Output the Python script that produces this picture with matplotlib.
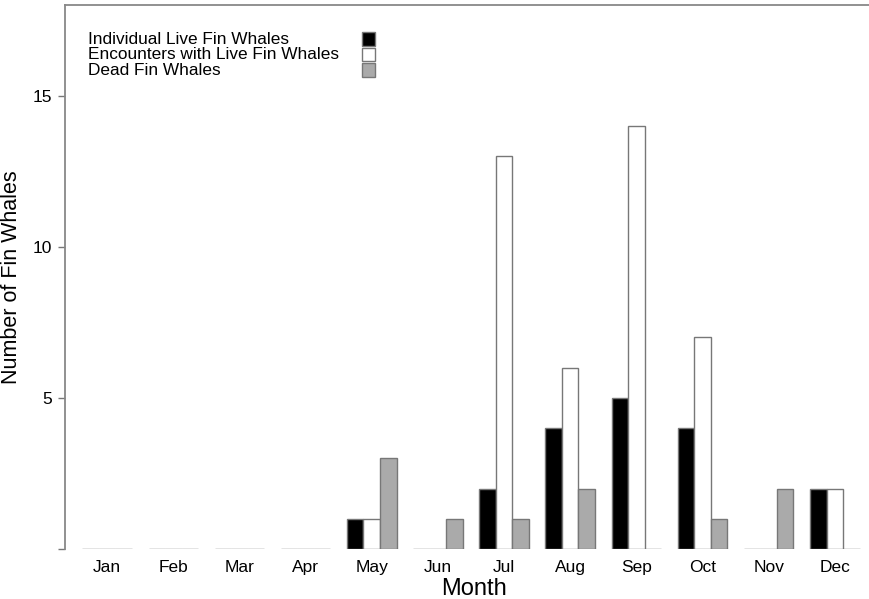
import numpy as np
import matplotlib
matplotlib.use('Agg')
import matplotlib.pyplot as plt

plt.rcParams['font.family'] = ['Liberation Sans', 'DejaVu Sans']

months = ['Jan', 'Feb', 'Mar', 'Apr', 'May', 'Jun',
          'Jul', 'Aug', 'Sep', 'Oct', 'Nov', 'Dec']
individual_live = [0, 0, 0, 0, 1, 0, 2, 4, 5, 4, 0, 2]
encounters_live = [0, 0, 0, 0, 1, 0, 13, 6, 14, 7, 0, 2]
dead = [0, 0, 0, 0, 3, 1, 1, 2, 0, 1, 2, 0]
series_labels = ['Individual Live Fin Whales',
                 'Encounters with Live Fin Whales',
                 'Dead Fin Whales']
series_colors = ['black', 'white', '#aaaaaa']

fig = plt.figure(figsize=(8.7, 5.99), dpi=100)
ax = fig.add_axes([0.0747, 0.0835, 0.94, 0.908])

edge = '#777777'
groups = np.arange(len(months)) * 4
for k, (vals, col) in enumerate(zip([individual_live, encounters_live, dead], series_colors)):
    ax.bar(groups + 1.5 + k, vals, width=1, color=col, edgecolor=edge, linewidth=1)

ax.set_xlim(-0.05, 49.4)
ax.set_ylim(0, 18)
ax.set_xticks(groups + 2.5)
ax.set_xticklabels(months, fontsize=12.5)
ax.tick_params(axis='x', length=0, pad=8)
ax.set_yticks([0, 5, 10, 15])
ax.set_yticklabels(['', '5', '10', '15'], fontsize=12.5)
ax.tick_params(axis='y', length=5, color=edge, width=1, pad=4)

for s in ['right', 'bottom']:
    ax.spines[s].set_visible(False)
for s in ['left', 'top']:
    ax.spines[s].set_color('#888888')
    ax.spines[s].set_linewidth(1.3)

ax.set_xlabel('Month', fontsize=17, labelpad=2)
ax.set_ylabel('Number of Fin Whales', fontsize=15.5, labelpad=8)

# legend drawn by hand like the original
for i, (lab, col) in enumerate(zip(series_labels, series_colors)):
    y = 16.87 - i * 0.51
    ax.text(1.34, y, lab, fontsize=12.4, va='center', ha='left')
    ax.bar(18.3, 0.45, width=0.8, bottom=y - 0.225, color=col,
           edgecolor=edge, linewidth=1)

fig.savefig('out.png', dpi=100)
